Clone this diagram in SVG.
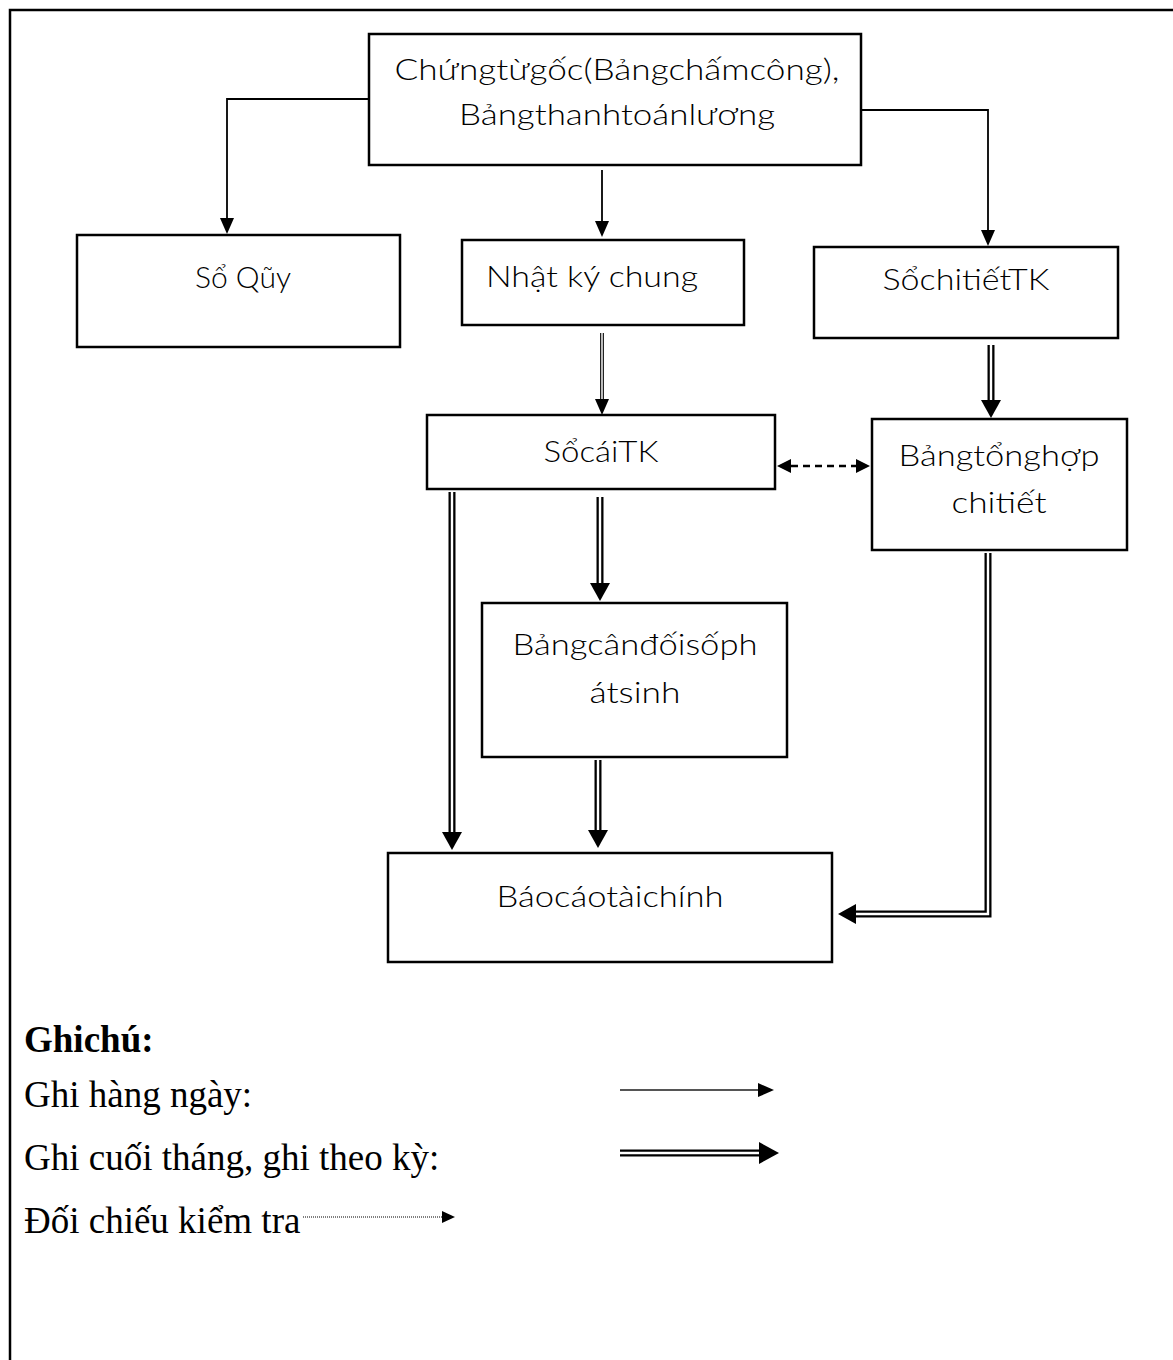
<svg xmlns="http://www.w3.org/2000/svg" width="1173" height="1360" viewBox="0 0 1173 1360">
<style>
.box{fill:#fff;stroke:#000;stroke-width:2.5}
.lbl{font-family:Lato,"Open Sans","Noto Sans","DejaVu Sans",sans-serif;font-size:30px;font-weight:300;fill:#000;text-anchor:middle}
.leg{font-family:"Liberation Serif","Times New Roman",serif;font-size:37px;fill:#000}
.thin{fill:none;stroke:#000;stroke-width:1.8}
.outer{fill:none;stroke:#000;stroke-width:7;stroke-linejoin:miter}
.inner{fill:none;stroke:#fff;stroke-width:2.4;stroke-linejoin:miter}
.outer2{fill:none;stroke:#222;stroke-width:4}
.inner2{fill:none;stroke:#fff;stroke-width:1.4}
.dash{fill:none;stroke:#000;stroke-width:2.5;stroke-dasharray:7,5}
</style>
<defs>
<marker id="ah" markerUnits="userSpaceOnUse" markerWidth="20" markerHeight="20" refX="0" refY="7" orient="auto"><path d="M0,0 L16,7 L0,14 Z" fill="#000"/></marker>
<marker id="ahb" markerUnits="userSpaceOnUse" markerWidth="24" markerHeight="24" refX="0" refY="10" orient="auto"><path d="M0,0 L18,10 L0,20 Z" fill="#000"/></marker>
<marker id="ahd" markerUnits="userSpaceOnUse" markerWidth="20" markerHeight="20" refX="0" refY="7" orient="auto-start-reverse"><path d="M0,0 L14,7 L0,14 Z" fill="#000"/></marker>
<marker id="ahl" markerUnits="userSpaceOnUse" markerWidth="24" markerHeight="26" refX="0" refY="11" orient="auto"><path d="M0,0 L20,11 L0,22 Z" fill="#000"/></marker>
<marker id="ahs" markerUnits="userSpaceOnUse" markerWidth="20" markerHeight="20" refX="0" refY="6" orient="auto"><path d="M0,0 L13,6 L0,12 Z" fill="#000"/></marker>
</defs>

<rect x="10" y="10" width="1200" height="1400" fill="none" stroke="#000" stroke-width="2.5"/>

<g id="connectors">
  <path class="thin" d="M369,99 H227 V218" marker-end="url(#ah)"/>
  <path class="thin" d="M602,170 V221" marker-end="url(#ah)"/>
  <path class="thin" d="M862,110 H988 V230" marker-end="url(#ah)"/>
  <path class="outer2" d="M602,333 V399" marker-end="url(#ah)"/>
  <path class="inner2" d="M602,333 V399"/>
  <path class="outer" d="M991,345 V400" marker-end="url(#ahb)"/>
  <path class="inner" d="M991,345 V400"/>
  <path class="outer" d="M600,497 V583" marker-end="url(#ahb)"/>
  <path class="inner" d="M600,497 V583"/>
  <path class="outer" d="M452,492 V832" marker-end="url(#ahb)"/>
  <path class="inner" d="M452,492 V832"/>
  <path class="outer" d="M598,760 V830" marker-end="url(#ahb)"/>
  <path class="inner" d="M598,760 V830"/>
  <path class="outer" d="M988,553 V914 H856" marker-end="url(#ahb)"/>
  <path class="inner" d="M988,553 V914 H856"/>
  <path class="dash" d="M791,466 H856" marker-start="url(#ahd)" marker-end="url(#ahd)"/>
</g>

<g id="n-chungtu">
  <rect class="box" x="369" y="34" width="492" height="131"/>
  <text class="lbl" x="617" y="80" textLength="445" lengthAdjust="spacingAndGlyphs">Chứngtừgốc(Bảngchấmcông),</text>
  <text class="lbl" x="617" y="125" textLength="316" lengthAdjust="spacingAndGlyphs">Bảngthanhtoánlương</text>
</g>
<g id="n-soquy">
  <rect class="box" x="77" y="235" width="323" height="112"/>
  <text class="lbl" x="243" y="288" textLength="96" lengthAdjust="spacingAndGlyphs">Sổ Qũy</text>
</g>
<g id="n-nkc">
  <rect class="box" x="462" y="240" width="282" height="85"/>
  <text class="lbl" x="592" y="287" textLength="212" lengthAdjust="spacingAndGlyphs">Nhật ký chung</text>
</g>
<g id="n-soct">
  <rect class="box" x="814" y="247" width="304" height="91"/>
  <text class="lbl" x="966" y="290" textLength="167" lengthAdjust="spacingAndGlyphs">SổchitiếtTK</text>
</g>
<g id="n-socai">
  <rect class="box" x="427" y="415" width="348" height="74"/>
  <text class="lbl" x="601" y="462" textLength="115" lengthAdjust="spacingAndGlyphs">SổcáiTK</text>
</g>
<g id="n-bthct">
  <rect class="box" x="872" y="419" width="255" height="131"/>
  <text class="lbl" x="999" y="466" textLength="201" lengthAdjust="spacingAndGlyphs">Bảngtổnghợp</text>
  <text class="lbl" x="999" y="513" textLength="95" lengthAdjust="spacingAndGlyphs">chitiết</text>
</g>
<g id="n-bcdps">
  <rect class="box" x="482" y="603" width="305" height="154"/>
  <text class="lbl" x="635" y="655" textLength="245" lengthAdjust="spacingAndGlyphs">Bảngcânđốisốph</text>
  <text class="lbl" x="635" y="703" textLength="91" lengthAdjust="spacingAndGlyphs">átsinh</text>
</g>
<g id="n-bctc">
  <rect class="box" x="388" y="853" width="444" height="109"/>
  <text class="lbl" x="610" y="907" textLength="227" lengthAdjust="spacingAndGlyphs">Báocáotàichính</text>
</g>

<g id="legend">
  <text class="leg" x="24" y="1052" font-weight="bold">Ghichú:</text>
  <text class="leg" x="24" y="1107">Ghi hàng ngày:</text>
  <text class="leg" x="24" y="1170">Ghi cuối tháng, ghi theo kỳ:</text>
  <text class="leg" x="24" y="1233">Đối chiếu kiểm tra</text>
  <path d="M620,1090 H758" fill="none" stroke="#555" stroke-width="1.8" marker-end="url(#ah)"/>
  <path class="outer" d="M620,1153 H759" marker-end="url(#ahl)"/>
  <path class="inner" d="M620,1153 H759"/>
  <path d="M303,1217 H442" fill="none" stroke="#555" stroke-width="1.6" stroke-dasharray="1,1" marker-end="url(#ahs)"/>
</g>
</svg>
